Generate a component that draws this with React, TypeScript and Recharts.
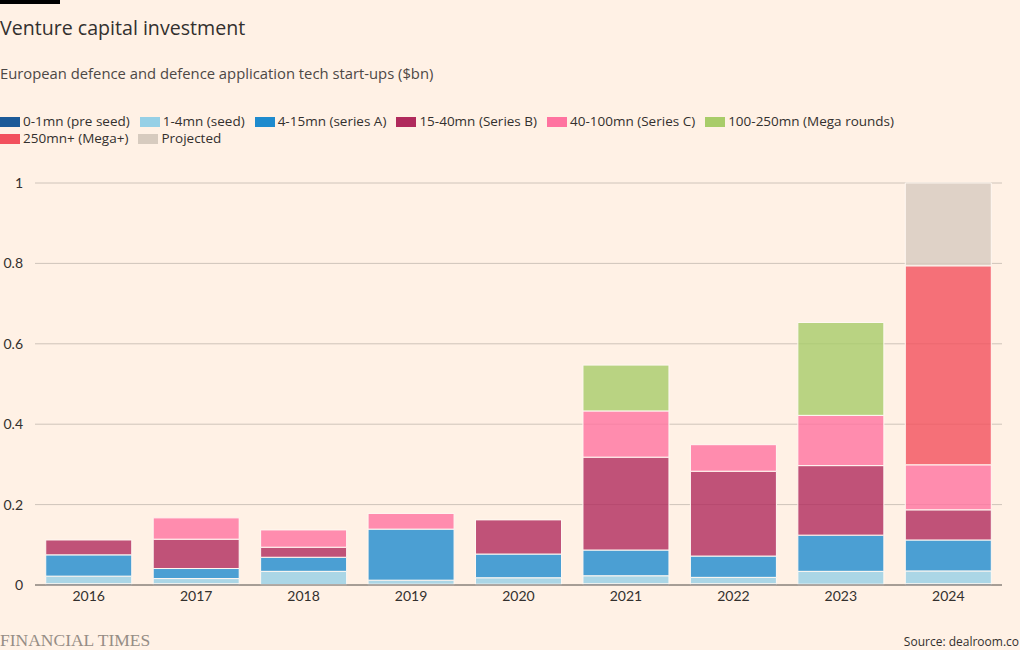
import { BarChart, Bar, XAxis, YAxis, CartesianGrid } from 'recharts';

const years = ['2016', '2017', '2018', '2019', '2020', '2021', '2022', '2023', '2024'];
const preSeed = [0.003, 0.003, 0.001, 0.002, 0.002, 0.003, 0.003, 0.002, 0.003];
const seed = [0.019, 0.013, 0.033, 0.010, 0.016, 0.020, 0.016, 0.032, 0.032];
const seriesA = [0.053, 0.025, 0.035, 0.127, 0.059, 0.064, 0.053, 0.090, 0.077];
const seriesB = [0.037, 0.073, 0.025, 0, 0.085, 0.231, 0.211, 0.173, 0.075];
const seriesC = [0, 0.053, 0.043, 0.039, 0, 0.115, 0.066, 0.125, 0.112];
const megaRounds = [0, 0, 0, 0, 0, 0.114, 0, 0.231, 0];
const megaPlus = [0, 0, 0, 0, 0, 0, 0, 0, 0.495];
const projected = [0, 0, 0, 0, 0, 0, 0, 0, 0.206];

const yTicks = [0, 0.2, 0.4, 0.6, 0.8, 1];

const SERIES = [
    { key: 'preSeed', name: '0-1mn (pre seed)', color: '#1d5a98', values: preSeed },
    { key: 'seed', name: '1-4mn (seed)', color: '#96d0e6', values: seed },
    { key: 'seriesA', name: '4-15mn (series A)', color: '#1e8bce', values: seriesA },
    { key: 'seriesB', name: '15-40mn (Series B)', color: '#b02a5c', values: seriesB },
    { key: 'seriesC', name: '40-100mn (Series C)', color: '#ff73a0', values: seriesC },
    { key: 'mega', name: '100-250mn (Mega rounds)', color: '#a8cc69', values: megaRounds },
    { key: 'megaPlus', name: '250mn+ (Mega+)', color: '#f2505d', values: megaPlus },
    { key: 'projected', name: 'Projected', color: '#d7cbbf', values: projected },
];

const data = years.map((year, i) => {
    const row: Record<string, string | number> = { year };
    for (const s of SERIES) row[s.key] = s.values[i];
    return row;
});

const FONT = '"Open Sans", Lato, sans-serif';
const TICK_FONT = 'Lato, "Open Sans", sans-serif';
const INK = '#33302e';

export default function App() {
    return (
        <div
            style={{
                position: 'absolute',
                left: 0,
                top: 0,
                width: 1020,
                height: 650,
                background: '#fff1e5',
                fontFamily: FONT,
                color: INK,
                overflow: 'hidden',
            }}
        >
            <div style={{ position: 'absolute', left: 0, top: 0, width: 60, height: 4, background: '#000' }} />
            <div style={{ position: 'absolute', left: 0, top: 14, fontSize: 19.6, lineHeight: '28px' }}>
                Venture capital investment
            </div>
            <div style={{ position: 'absolute', left: 0, top: 63, fontSize: 14.8, lineHeight: '20px', color: '#4d4845' }}>
                European defence and defence application tech start-ups ($bn)
            </div>

            {/* legend */}
            <div
                style={{
                    position: 'absolute',
                    left: 0,
                    top: 113,
                    width: 940,
                    display: 'flex',
                    flexWrap: 'wrap',
                    fontSize: 13.5,
                    lineHeight: '17px',
                }}
            >
                {SERIES.map((s) => (
                    <div key={s.key} style={{ display: 'flex', alignItems: 'center', marginRight: 10 }}>
                        <span style={{ display: 'inline-block', width: 20, height: 10, background: s.color, marginRight: 3 }} />
                        <span>{s.name}</span>
                    </div>
                ))}
            </div>

            <div style={{ position: 'absolute', left: 0, top: 170 }}>
                <BarChart
                    width={1020}
                    height={445}
                    data={data}
                    margin={{ top: 13, right: 18, bottom: 0, left: 0 }}
                    barCategoryGap="10%"
                >
                    <CartesianGrid vertical={false} stroke="#cfc4ba" />
                    <XAxis
                        dataKey="year"
                        tickLine={false}
                        tickSize={0}
                        tickMargin={6}
                        axisLine={{ stroke: '#66605c' }}
                        tick={{ fill: INK, fontSize: 14, fontFamily: TICK_FONT }}
                        height={30}
                    />
                    <YAxis
                        domain={[0, 1]}
                        ticks={yTicks}
                        width={35}
                        axisLine={false}
                        tickLine={false}
                        tickSize={0}
                        tickMargin={12}
                        tick={{ fill: INK, fontSize: 14, fontFamily: TICK_FONT }}
                    />
                    {SERIES.map((s) => (
                        <Bar
                            key={s.key}
                            dataKey={s.key}
                            name={s.name}
                            stackId="a"
                            fill={s.color}
                            fillOpacity={0.8}
                            stroke="#fff8f2"
                            strokeWidth={1}
                            isAnimationActive={false}
                        />
                    ))}
                </BarChart>
            </div>

            <div
                style={{
                    position: 'absolute',
                    left: 0,
                    top: 630,
                    fontFamily: '"Liberation Serif", serif',
                    fontSize: 17.5,
                    color: '#968d85',
                    lineHeight: '20px',
                }}
            >
                FINANCIAL TIMES
            </div>
            <div style={{ position: 'absolute', right: 1, top: 634, fontSize: 12, lineHeight: '16px' }}>
                Source: dealroom.co
            </div>
        </div>
    );
}
